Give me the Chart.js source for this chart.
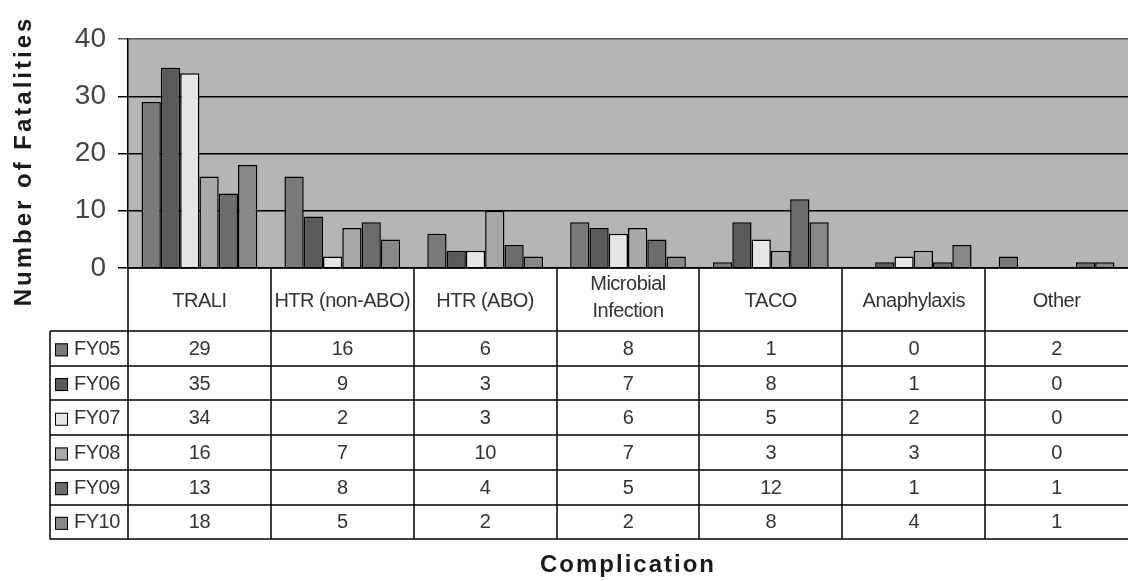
<!DOCTYPE html>
<html>
<head>
<meta charset="utf-8">
<script src="https://cdn.jsdelivr.net/npm/chart.js@4.4.0/dist/chart.umd.min.js"></script>
<style>
  html, body { margin: 0; padding: 0; background: #fff; }
  #wrap { width: 1128px; height: 581px; position: relative; }
</style>
</head>
<body>
<div id="wrap"><canvas id="chart" width="1128" height="581"></canvas></div>
<script>
const categories = ['TRALI', 'HTR (non-ABO)', 'HTR (ABO)', ['Microbial', 'Infection'], 'TACO', 'Anaphylaxis', 'Other'];
const seriesNames = ['FY05', 'FY06', 'FY07', 'FY08', 'FY09', 'FY10'];
const fy05 = [29, 16, 6, 8, 1, 0, 2];
const fy06 = [35, 9, 3, 7, 8, 1, 0];
const fy07 = [34, 2, 3, 6, 5, 2, 0];
const fy08 = [16, 7, 10, 7, 3, 3, 0];
const fy09 = [13, 8, 4, 5, 12, 1, 1];
const fy10 = [18, 5, 2, 2, 8, 4, 1];
const seriesValues = [fy05, fy06, fy07, fy08, fy09, fy10];
const seriesColors = ['#7a7a7a', '#5a5a5a', '#e6e6e6', '#a8a8a8', '#6c6c6c', '#878787'];

const FONT = '"Liberation Sans", Arial, sans-serif';
const headerH = 63;
const rowH = 34.7;

// grey plot background
const plotBg = {
  id: 'plotBg',
  beforeDraw(chart) {
    const { ctx, chartArea: a } = chart;
    ctx.save();
    ctx.fillStyle = '#b5b5b5';
    ctx.fillRect(a.left, a.top, a.right - a.left, a.bottom - a.top);
    ctx.restore();
  }
};

// data table under the plot + axis titles
const dataTable = {
  id: 'dataTable',
  afterDraw(chart) {
    const { ctx, chartArea: a } = chart;
    const x = chart.scales.x;
    const colW = x.width / categories.length;
    const top = a.bottom;
    const headBottom = top + headerH;
    const bottom = headBottom + rowH * seriesNames.length;
    const legLeft = 50;

    ctx.save();
    ctx.strokeStyle = '#000';
    ctx.lineWidth = 1.5;
    ctx.beginPath();
    // vertical separators
    for (let i = 0; i <= categories.length; i++) {
      const px = Math.round(a.left + colW * i);
      if (px > a.right - 1) continue;
      ctx.moveTo(px, top);
      ctx.lineTo(px, bottom);
    }
    ctx.moveTo(legLeft, headBottom);
    ctx.lineTo(legLeft, bottom);
    // horizontal lines
    ctx.moveTo(a.left, top);
    ctx.lineTo(a.right, top);
    for (let r = 0; r <= seriesNames.length; r++) {
      const py = Math.round(headBottom + rowH * r);
      ctx.moveTo(legLeft, py);
      ctx.lineTo(a.right, py);
    }
    ctx.stroke();

    ctx.fillStyle = '#333';
    ctx.textAlign = 'center';
    ctx.textBaseline = 'middle';
    ctx.font = '20px ' + FONT;
    ctx.letterSpacing = '-0.5px';
    // header labels
    categories.forEach((c, i) => {
      const cx = x.getPixelForValue(i);
      if (Array.isArray(c)) {
        ctx.fillText(c[0], cx, top + headerH / 2 - 15);
        ctx.fillText(c[1], cx, top + headerH / 2 + 12);
      } else {
        ctx.fillText(c, cx, top + headerH / 2 + 2);
      }
    });
    // rows
    seriesNames.forEach((name, r) => {
      const cy = headBottom + rowH * r + rowH / 2 + 1;
      ctx.fillStyle = seriesColors[r];
      ctx.fillRect(55, cy - 6, 13, 13);
      ctx.lineWidth = 1;
      ctx.strokeRect(55.5, cy - 5.5, 12, 12);
      ctx.fillStyle = '#333';
      ctx.textAlign = 'left';
      ctx.fillText(name, 74, cy);
      ctx.textAlign = 'center';
      seriesValues[r].forEach((v, i) => {
        ctx.fillText(String(v), x.getPixelForValue(i), cy);
      });
    });

    // axis titles
    ctx.fillStyle = '#1a1a1a';
    ctx.font = 'bold 24px ' + FONT;
    ctx.letterSpacing = '2px';
    ctx.fillText('Complication', (a.left + a.right) / 2, 565);
    ctx.translate(24, 161);
    ctx.rotate(-Math.PI / 2);
    ctx.letterSpacing = '3px';
    ctx.fillText('Number of Fatalities', 0, 0);
    ctx.restore();
  }
};

new Chart(document.getElementById('chart'), {
  type: 'bar',
  data: {
    labels: categories,
    datasets: seriesNames.map((name, i) => ({
      label: name,
      data: seriesValues[i],
      backgroundColor: seriesColors[i],
      borderColor: '#000',
      borderWidth: 1.5,
      categoryPercentage: 0.81,
      barPercentage: 1.0
    }))
  },
  options: {
    responsive: false,
    animation: false,
    layout: { padding: { top: 39, bottom: 313, left: 0, right: 0 } },
    plugins: { legend: { display: false }, tooltip: { enabled: false } },
    scales: {
      x: { display: false },
      y: {
        min: 0,
        max: 40,
        ticks: { stepSize: 10, color: '#444', font: { family: FONT, size: 28 }, padding: 12 },
        grid: {
          color: ctx => (ctx.tick && ctx.tick.value === 40 ? '#555' : '#000'),
          lineWidth: 1.5,
          tickLength: 10,
          drawTicks: true
        },
        border: { display: true, color: '#000', width: 1.5 },
        afterFit(s) { s.width = 128; }
      }
    }
  },
  plugins: [plotBg, dataTable]
});
</script>
</body>
</html>
